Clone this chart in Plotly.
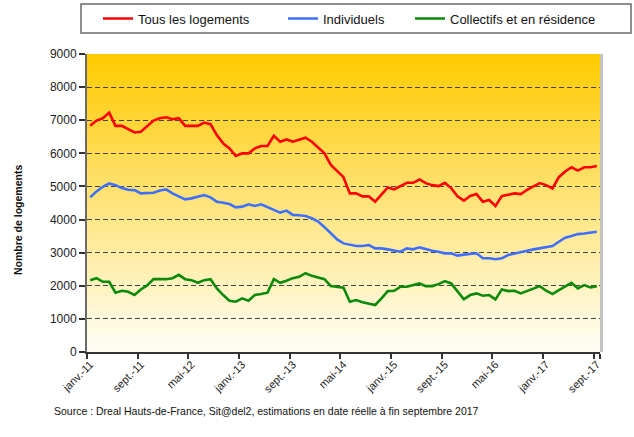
import plotly.graph_objects as go

# ---------------- data ----------------
month_names = ["janv.", "févr.", "mars", "avr.", "mai", "juin",
               "juil.", "août", "sept.", "oct.", "nov.", "déc."]
years = ["11", "12", "13", "14", "15", "16", "17"]
categories = [f"{m}-{y}" for y in years for m in month_names][:81]  # janv.-11 .. sept.-17

tick_labels = ["janv.-11", "sept.-11", "mai-12", "janv.-13", "sept.-13", "mai-14",
               "janv.-15", "sept.-15", "mai-16", "janv.-17", "sept.-17"]

tous_logements = [
    6830, 6990, 7060, 7230, 6830, 6830, 6730, 6630, 6650, 6810,
    6990, 7060, 7090, 7030, 7060, 6830, 6830, 6830, 6930, 6880,
    6550, 6300, 6150, 5920, 6000, 6000, 6150, 6220, 6220, 6530,
    6350, 6420, 6350, 6400, 6470, 6350, 6180, 6000, 5650, 5450,
    5280, 4790, 4790, 4700, 4700, 4540, 4740, 4970, 4910, 5010,
    5110, 5110, 5210, 5100, 5040, 5010, 5110, 4950, 4700, 4570,
    4710, 4770, 4540, 4590, 4410, 4710, 4740, 4790, 4770, 4900,
    5000, 5100, 5040, 4940, 5280, 5450, 5580, 5480, 5580, 5580,
    5620,
]

individuels = [
    4670, 4850, 4990, 5090, 5040, 4950, 4900, 4890, 4790, 4800,
    4810, 4880, 4910, 4790, 4710, 4610, 4640, 4700, 4740, 4670,
    4540, 4510, 4470, 4370, 4390, 4460, 4410, 4460, 4370, 4300,
    4210, 4270, 4140, 4130, 4110, 4040, 3940, 3770, 3580, 3400,
    3280, 3240, 3200, 3200, 3230, 3130, 3130, 3100, 3060, 3030,
    3130, 3100, 3160, 3100, 3060, 3030, 2980, 2980, 2910, 2940,
    2970, 2980, 2830, 2830, 2800, 2830, 2930, 2980, 3010, 3060,
    3100, 3130, 3160, 3200, 3330, 3450, 3500, 3560, 3580, 3600,
    3630,
]

collectifs = [
    2170, 2230, 2120, 2120, 1790, 1850, 1820, 1720, 1890, 2010,
    2200, 2200, 2200, 2230, 2330, 2200, 2170, 2090, 2170, 2200,
    1920, 1720, 1550, 1520, 1620, 1550, 1720, 1750, 1790, 2200,
    2090, 2150, 2230, 2270, 2380, 2300, 2250, 2200, 1990, 1960,
    1940, 1520, 1570, 1500, 1470, 1420, 1620, 1840, 1850, 1970,
    1970, 2020, 2070, 1990, 1990, 2050, 2140, 2070, 1820, 1590,
    1720, 1770, 1700, 1720, 1590, 1890, 1840, 1850, 1770, 1850,
    1920, 1990, 1850, 1750, 1870, 1990, 2090, 1920, 2020, 1950,
    1990,
]

series_names = ["Tous les logements", "Individuels", "Collectifs et en résidence"]
series_colors = ["#FF0000", "#3F6FFF", "#0A8A0A"]

y_title = "Nombre de logements"
source_text = "Source : Dreal Hauts-de-France, Sit@del2, estimations en date réelle à fin septembre 2017"

# ---------------- figure ----------------
FONT = "Liberation Sans, Arial, sans-serif"
W, H = 634, 437
fig = go.Figure()

for name, vals, col, lg in zip(series_names, [tous_logements, individuels, collectifs],
                               series_colors, ["legend", "legend2", "legend3"]):
    fig.add_trace(go.Scatter(x=categories, y=vals, mode="lines", name=name,
                             line=dict(color=col, width=2.6), legend=lg, showlegend=True))

# gradient background (plot area)
N = 120
top = (255, 202, 0)
bot = (255, 254, 246)
shapes = []
for k in range(N):
    t = k / (N - 1)  # 0 bottom -> 1 top
    r = round(bot[0] + (top[0] - bot[0]) * t)
    g = round(bot[1] + (top[1] - bot[1]) * t)
    b = round(bot[2] + (top[2] - bot[2]) * t)
    shapes.append(dict(type="rect", xref="x domain", yref="y domain",
                       x0=0, x1=1, y0=k / N, y1=min(1, (k + 1) / N + 0.004),
                       fillcolor=f"rgb({r},{g},{b})", line=dict(width=0), layer="below"))
# right border of plot area
shapes.append(dict(type="line", xref="x domain", yref="y domain", x0=1.003, x1=1.003, y0=0, y1=1,
                   line=dict(color="#C4C4C4", width=3)))
# legend box
shapes.append(dict(type="rect", xref="paper", yref="paper",
                   x0=(81 - 87) / 513, x1=(631 - 87) / 513,
                   y0=(352 - 33) / 298, y1=(352 - 4) / 298,
                   line=dict(color="#6A6A6A", width=1.5), fillcolor="white", layer="below"))

leg_common = dict(orientation="h", yanchor="middle", xanchor="left",
                  xref="container", yref="container",
                  bgcolor="rgba(0,0,0,0)", borderwidth=0,
                  font=dict(family=FONT, size=13, color="#111111"))
ly = 1 - 18.5 / H

fig.update_layout(
    width=W, height=H,
    margin=dict(l=87, r=34, t=54, b=85, autoexpand=False),
    paper_bgcolor="white",
    plot_bgcolor="rgba(0,0,0,0)",
    font=dict(family=FONT, size=12, color="#222222"),
    showlegend=True,
    shapes=shapes,
    legend=dict(x=98 / W, y=ly, **leg_common),
    legend2=dict(x=283 / W, y=ly, **leg_common),
    legend3=dict(x=410 / W, y=ly, **leg_common),
    xaxis=dict(
        type="category", automargin=False,
        tickmode="array", tickvals=tick_labels, ticktext=tick_labels,
        tickson="boundaries",
        tickangle=-45, tickfont=dict(family=FONT, size=11, color="#222222"),
        ticks="outside", ticklen=5, tickcolor="#333333", tickwidth=1.5,
        showline=True, linecolor="#333333", linewidth=1.5,
        showgrid=False, zeroline=False,
        range=[-0.5, 80.5],
    ),
    yaxis=dict(
        automargin=False,
        range=[0, 9000], tickmode="linear", tick0=0, dtick=1000,
        tickfont=dict(family=FONT, size=12, color="#222222"),
        ticks="outside", ticklen=6, tickcolor="#333333", tickwidth=1.5,
        showline=True, linecolor="#6A6A6A", linewidth=2,
        showgrid=True, gridcolor="#444444", gridwidth=1.3, griddash="5px,3px",
        zeroline=False,
    ),
    annotations=[
        dict(text=f"<b>{y_title}</b>", textangle=-90, xref="paper", yref="paper",
             x=(18 - 87) / 513, y=(352 - 220) / 298, xanchor="center", yanchor="middle",
             showarrow=False, font=dict(family=FONT, size=10.5, color="#111111")),
        dict(text=source_text, xref="paper", yref="paper",
             x=(52 - 87) / 513, y=(352 - 411) / 298, xanchor="left", yanchor="middle",
             showarrow=False, font=dict(family=FONT, size=10.5, color="#111111")),
    ],
)

fig.write_html("out.html",
               config={"displayModeBar": False},
               post_script="document.body.style.margin='0';document.body.style.overflow='hidden';")
